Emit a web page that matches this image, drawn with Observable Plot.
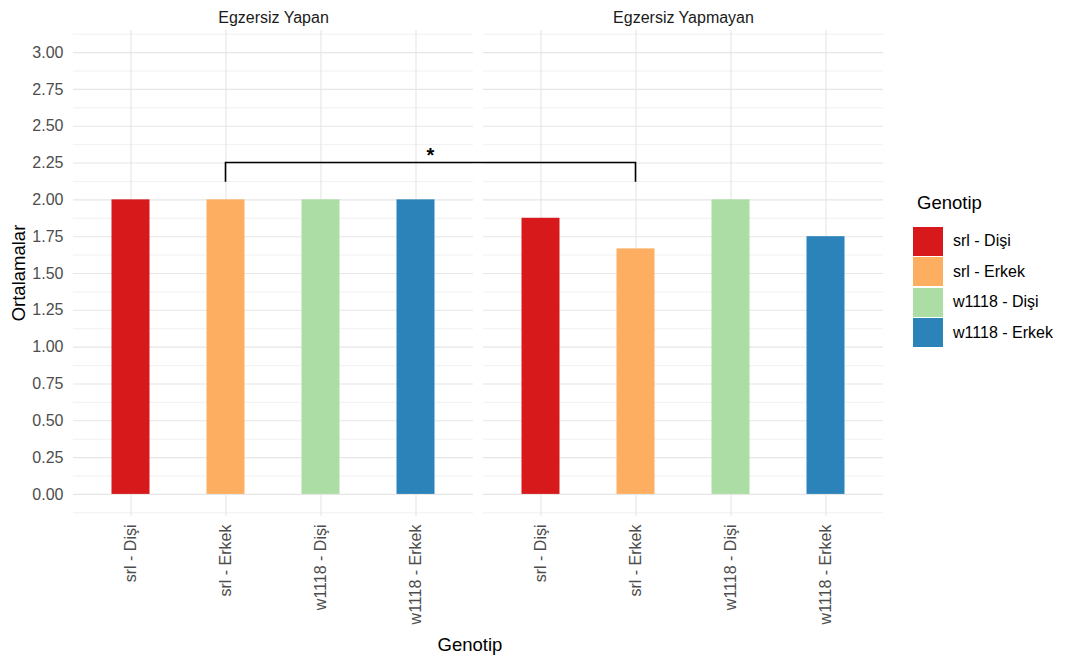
<!DOCTYPE html>
<html><head><meta charset="utf-8">
<script src="https://cdn.jsdelivr.net/npm/d3@7"></script>
<script src="https://cdn.jsdelivr.net/npm/@observablehq/plot@0.6"></script>
<style>
body{margin:0;background:#fff;font-family:"Liberation Sans",Arial,sans-serif;}
#wrap{position:relative;width:1068px;height:661px;overflow:hidden;}
#chart{position:absolute;left:0;top:0;}
#chart svg text{font-size:16px;}
#chart g[aria-label^="fx-axis"] text{fill:#1a1a1a;}
.ttl{position:absolute;white-space:nowrap;font-size:18.5px;color:#000;}
#ytitle{left:19px;top:273px;transform:translate(-50%,-50%) rotate(-90deg);}
#xtitle{left:470px;top:645px;transform:translate(-50%,-50%);}
#legend{position:absolute;left:913px;top:192px;color:#000;}
#legend .lt{font-size:18.5px;margin:0 0 12px 4px;}
#legend .row{display:flex;align-items:center;height:30.5px;}
#legend .sw{width:30px;height:29px;margin-right:10px;}
#legend .lab{font-size:16px;}
</style></head><body>
<div id="wrap"><div id="chart"></div>
<div id="ytitle" class="ttl">Ortalamalar</div>
<div id="xtitle" class="ttl">Genotip</div>
<div id="legend"></div></div>
<script>
const panels = ["Egzersiz Yapan", "Egzersiz Yapmayan"];
const genotypes = ["srl - Dişi", "srl - Erkek", "w1118 - Dişi", "w1118 - Erkek"];
const yapanMeans = [2.0, 2.0, 2.0, 2.0];
const yapmayanMeans = [1.875, 1.667, 2.0, 1.75];
const palette = ["#d7191c", "#fdae61", "#abdda4", "#2b83ba"];
const yTicks = [0, 0.25, 0.5, 0.75, 1, 1.25, 1.5, 1.75, 2, 2.25, 2.5, 2.75, 3];
const yMinor = [-0.125, 0.125, 0.375, 0.625, 0.875, 1.125, 1.375, 1.625, 1.875, 2.125, 2.375, 2.625, 2.875, 3.125];
const sigFrom = ["Egzersiz Yapan", "srl - Erkek"];
const sigTo = ["Egzersiz Yapmayan", "srl - Erkek"];
const sigY = 2.25, sigTip = 2.12, sigLabel = "*";

const seriesByPanel = [yapanMeans, yapmayanMeans];
const rows = panels.flatMap((p, i) => genotypes.map((g, j) => ({panel: p, genotip: g, ortalama: seriesByPanel[i][j]})));

let bracketDrawn = false;
function bracket(index, scales, values, dimensions) {
  const key = index ? index.fx : undefined;
  if (key !== undefined ? key !== sigFrom[0] : bracketDrawn) return null;
  bracketDrawn = true;
  const {fx, x, y} = scales;
  const half = x.bandwidth ? x.bandwidth() / 2 : 0;
  // positions relative to the facet this mark is drawn in (sigFrom panel)
  const x1 = x(sigFrom[1]) + half;
  const x2 = fx(sigTo[0]) - fx(sigFrom[0]) + x(sigTo[1]) + half;
  const yl = y(sigY), yt = y(sigTip);
  const g = d3.create("svg:g");
  g.append("path")
    .attr("d", `M${x1},${yt}V${yl}H${x2}V${yt}`)
    .attr("fill", "none").attr("stroke", "#000").attr("stroke-width", 1.6);
  g.append("text").attr("x", (x1 + x2) / 2).attr("y", yl - 1)
    .attr("text-anchor", "middle").attr("font-weight", "bold")
    .style("font-size", "20px").attr("fill", "#000").text(sigLabel);
  return g.node();
}

const chart = Plot.plot({
  width: 1068,
  height: 661,
  marginLeft: 72.5,
  marginRight: 185.5,
  marginTop: 30,
  marginBottom: 145,
  style: {fontFamily: '"Liberation Sans", Arial, sans-serif', fontSize: "16px", color: "#4d4d4d", background: "#fff"},
  fx: {domain: panels, paddingInner: 10 / 410, paddingOuter: 0, axis: "top", tickSize: 0, tickPadding: 8, label: null},
  x: {domain: genotypes, paddingInner: 0.6, paddingOuter: 0.4, tickRotate: -90, tickSize: 0, tickPadding: 8, label: null},
  y: {domain: [-0.15, 3.15], ticks: yTicks, tickFormat: d => d.toFixed(2), tickSize: 0, tickPadding: 10, label: null},
  color: {domain: genotypes, range: palette},
  marks: [
    Plot.ruleY(yMinor, {stroke: "#eeeeee", strokeWidth: 0.8}),
    Plot.ruleY(yTicks, {stroke: "#e6e6e6", strokeWidth: 1.1}),
    Plot.ruleX(genotypes, {stroke: "#e6e6e6", strokeWidth: 1.1}),
    Plot.barY(rows, {fx: "panel", x: "genotip", y: "ortalama", fill: "genotip"}),
    bracket
  ]
});
document.getElementById("chart").appendChild(chart);

const legend = d3.select("#legend");
legend.append("div").attr("class", "lt").text("Genotip");
genotypes.forEach((g, i) => {
  const r = legend.append("div").attr("class", "row");
  r.append("div").attr("class", "sw").style("background", palette[i]);
  r.append("div").attr("class", "lab").text(g);
});
</script>
</body></html>
